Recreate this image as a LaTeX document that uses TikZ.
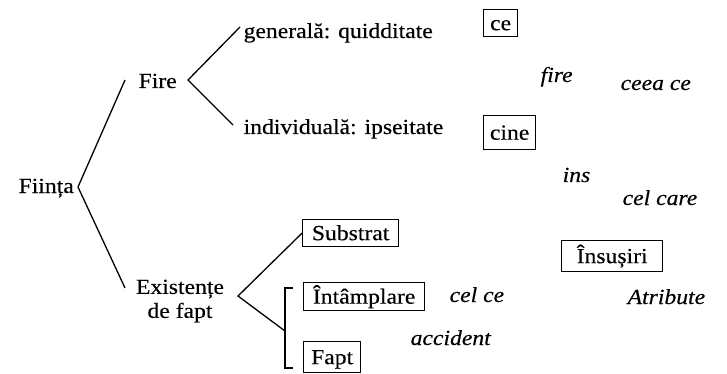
\documentclass[tikz,border=0pt]{standalone}
\usepackage{fontspec}
\setmainfont{Liberation Serif}[FakeStretch=1.1,FakeBold=0.3]
\begin{document}
\begin{tikzpicture}[x=1pt,y=-1pt,line width=1.3pt,
  every node/.style={font=\fontsize{21.5}{24}\selectfont, inner sep=0pt},
  lbl/.style={anchor=base west},
  itl/.style={anchor=base west, font=\fontsize{21.5}{24}\selectfont\itshape},
  bx/.style={draw, anchor=north west, inner sep=0pt, text height=15pt, text depth=1pt, line width=1.3pt},
  conn/.style={line width=1.3pt, line join=miter}]
\useasboundingbox (0,0) rectangle (727,374);

% main labels
\node[lbl] (fiinta) at (18,193) {Ființa};
\node[lbl] (fire) at (138,88) {Fire};
\node[lbl] (gen) at (243,38) {generală: quidditate};
\node[lbl] (ind) at (243,134) {individuală: ipseitate};
\node[align=center, anchor=north] (exist) at (180,279) {Existențe\\de fapt};

% boxes
\node[bx, minimum width=34, minimum height=27] (ce) at (483,9) {ce};
\node[bx, minimum width=52, minimum height=34] (cine) at (483,115) {cine};
\node[bx, minimum width=101, minimum height=31] (insusiri) at (561,240) {Însușiri};
\node[bx, minimum width=96, minimum height=27] (subst) at (302,219) {Substrat};
\node[bx, minimum width=121, minimum height=28] (intam) at (303,282) {Întâmplare};
\node[bx, minimum width=57, minimum height=31] (fapt) at (303,341) {Fapt};

% italic glosses
\node[itl] (fireit) at (540,82) {fire};
\node[itl] (ceeace) at (620,90) {ceea ce};
\node[itl] (ins) at (562,182) {ins};
\node[itl] (celcare) at (622,205) {cel care};
\node[itl] (atr) at (627,304) {Atribute};
\node[itl] (celce) at (449,302) {cel ce};
\node[itl] (acc) at (410,345) {accident};

% bracket points
\coordinate (fA) at (125,80);
\coordinate (fT) at (78,187);
\coordinate (fB) at (125,288);
\coordinate (rA) at (240,27);
\coordinate (rT) at (188,80);
\coordinate (rB) at (233,125);
\coordinate (eT) at (238,296);
\coordinate (eB) at (285,331);
\coordinate (sqA) at (293,288);
\coordinate (sqB) at (285,288);
\coordinate (sqC) at (285,368);
\coordinate (sqD) at (293,368);

% connectors
\draw[conn] (fA) -- (fT) -- (fB);
\draw[conn] (rA) -- (rT) -- (rB);
\draw[conn] (subst.west) -- (eT) -- (eB);
\draw[conn] (sqA) -- (sqB) -- (sqC) -- (sqD);
\end{tikzpicture}
\end{document}
